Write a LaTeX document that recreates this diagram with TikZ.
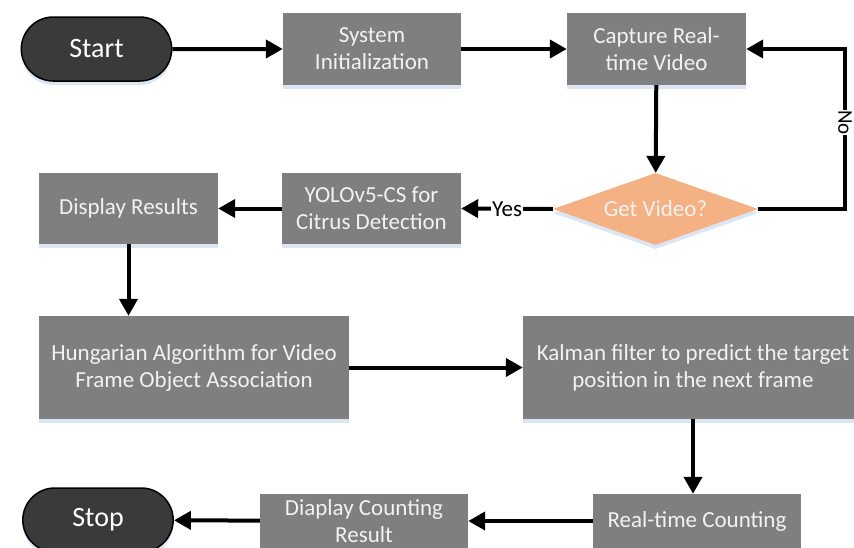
\documentclass[tikz,border=0pt]{standalone}
\usepackage{fontspec}
\setmainfont{Carlito}
\usetikzlibrary{shapes.geometric,shapes.misc,arrows.meta,shadows}
\definecolor{boxgray}{RGB}{127,127,127}
\definecolor{boxtext}{RGB}{242,242,242}
\definecolor{termgray}{RGB}{58,58,58}
\definecolor{decorange}{RGB}{244,177,131}
\definecolor{shadowblue}{RGB}{205,218,238}
\tikzset{
  softshadow/.style={drop shadow={shadow xshift=0pt, shadow yshift=-4pt, fill=shadowblue, opacity=0.7}},
  proc/.style={rectangle, fill=boxgray, text=boxtext, inner sep=2pt, align=center,
    font=\fontsize{23}{27}\selectfont, softshadow},
  term/.style={rounded rectangle, draw=black, line width=1.5pt, fill=termgray, text=white,
    font=\fontsize{28}{32}\selectfont, minimum width=157pt, minimum height=64pt, softshadow},
  decision/.style={diamond, aspect=2.85, inner sep=0pt, fill=decorange, text=boxtext,
    font=\fontsize{23}{27}\selectfont, minimum width=205pt, minimum height=72pt, softshadow},
  conn/.style={line width=4pt, -{Triangle[length=17pt,width=18pt]}},
  lbl/.style={fill=white, inner sep=1pt, text=black, font=\fontsize{23}{26}\selectfont}
}
\begin{document}
\begin{tikzpicture}[x=1pt,y=-1pt]
\useasboundingbox (0,0) rectangle (854,547);
\node[term] (start) at (96.5,49) {Start};
\node[proc, minimum width=178pt, minimum height=72pt] (sys) at (372,49) {System\\Initialization};
\node[proc, minimum width=179pt, minimum height=72pt] (cap) at (656.5,49) {Capture Real-\\time Video};
\node[decision] (dia) at (655.5,209) {Get Video?};
\node[proc, minimum width=179pt, minimum height=71pt] (yolo) at (371.5,208.5) {YOLOv5-CS for\\Citrus Detection};
\node[proc, minimum width=179pt, minimum height=71pt] (disp) at (128.5,208.5) {Display Results};
\node[proc, minimum width=310pt, minimum height=103pt] (hung) at (194,367.5) {Hungarian Algorithm for Video\\Frame Object Association};
\node[proc, minimum width=340pt, minimum height=103pt] (kal) at (693,367.5) {Kalman filter to predict the target\\position in the next frame};
\node[proc, minimum width=208pt, minimum height=54pt] (rtc) at (697,521) {Real-time Counting};
\node[proc, minimum width=208pt, minimum height=54pt] (dcr) at (364,521) {Diaplay Counting\\Result};
\node[term] (stop) at (98,520) {Stop};
\coordinate (nocorner) at (845,49);

\draw[conn] (start) -- (sys);
\draw[conn] (sys) -- (cap);
\draw[conn] (cap) -- (dia);
\draw[conn] (dia.east) -| node[lbl, pos=0.77, rotate=-90, inner sep=0.5pt, font=\fontsize{21}{24}\selectfont] {No} (nocorner) -- (cap.east);
\draw[conn] (dia.west) -- node[lbl] {Yes} (yolo.east);
\draw[conn] (yolo) -- (disp);
\draw[conn] (disp.south) -- (disp.south |- hung.north);
\draw[conn] (hung) -- (kal);
\draw[conn] (kal.south) -- (kal.south |- rtc.north);
\draw[conn] (rtc) -- (dcr);
\draw[conn] (dcr) -- (stop);
\end{tikzpicture}
\end{document}
